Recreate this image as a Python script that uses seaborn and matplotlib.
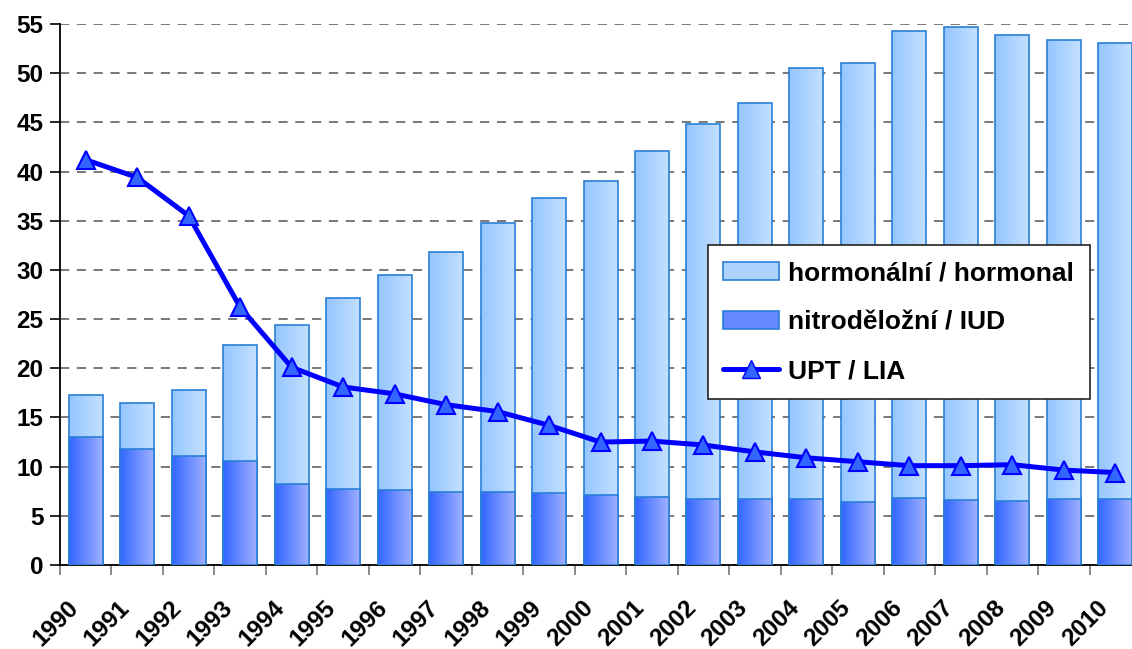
import numpy as np
import pandas as pd
import matplotlib
matplotlib.use('Agg')
import matplotlib.pyplot as plt
import matplotlib.transforms as mtransforms
import seaborn as sns
from matplotlib.patches import Patch
from matplotlib.lines import Line2D
from matplotlib.colors import LinearSegmentedColormap

# data
years = [str(y) for y in range(1990, 2011)]
total = [17.25, 16.5, 17.75, 22.35, 24.4, 27.1, 29.5, 31.8, 34.75, 37.3, 39.0,
         42.1, 44.8, 47.0, 50.5, 51.0, 54.3, 54.7, 53.9, 53.4, 53.1]
iud = [13.05, 11.75, 11.1, 10.55, 8.2, 7.7, 7.6, 7.4, 7.4, 7.3, 7.1,
       6.9, 6.7, 6.7, 6.75, 6.4, 6.85, 6.65, 6.55, 6.75, 6.75]
upt = [41.2, 39.4, 35.5, 26.2, 20.1, 18.1, 17.4, 16.3, 15.6, 14.2, 12.5,
       12.6, 12.2, 11.5, 10.9, 10.5, 10.1, 10.1, 10.2, 9.65, 9.4]

df = pd.DataFrame({'year': years, 'total': total, 'iud': iud, 'upt': upt})

sns.set_style('white')
plt.rcParams['font.family'] = ['Liberation Sans', 'DejaVu Sans']
plt.rcParams['font.weight'] = 'bold'
plt.rcParams['text.color'] = 'black'
plt.rcParams['xtick.color'] = 'black'
plt.rcParams['ytick.color'] = 'black'

fig = plt.figure(figsize=(11.32, 6.49), dpi=100)
ax = fig.add_axes([0.053, 0.1294, 0.955, 0.8336])

edge = '#2a7fd8'
sns.barplot(data=df, x='year', y='total', color='#a8d0ff', edgecolor=edge,
            linewidth=1.2, width=0.66, saturation=1, ax=ax, zorder=2)
n_tot = len(ax.patches)
sns.barplot(data=df, x='year', y='iud', color='#6688ff', edgecolor=edge,
            linewidth=1.2, width=0.66, saturation=1, ax=ax, zorder=3)

# horizontal gradient inside the bars
hor_cmap = LinearSegmentedColormap.from_list('hor', ['#94c6ff', '#c4e0ff'])
iud_cmap = LinearSegmentedColormap.from_list('iud', ['#3366ff', '#9fb0ff'])
grad = np.linspace(0, 1, 64).reshape(1, -1)
for i, p in enumerate(ax.patches):
    x0, y0 = p.get_x(), p.get_y()
    w, h = p.get_width(), p.get_height()
    cmap = hor_cmap if i < n_tot else iud_cmap
    im = ax.imshow(grad, cmap=cmap, aspect='auto', extent=[x0, x0 + w, y0, y0 + h],
                   zorder=p.get_zorder() + 0.1, interpolation='bicubic')
    im.set_clip_path(p)
    p.set_facecolor('none')
    p.set_zorder(p.get_zorder() + 0.2)

sns.lineplot(x=np.arange(len(years)), y=upt, color='#0000ff', linewidth=3.6,
             marker='^', markersize=13, markerfacecolor='#3366ff',
             markeredgecolor='#0000ff', markeredgewidth=1.5, ax=ax, zorder=5)

ax.set_xlim(-0.5, len(years) - 0.5)
ax.set_ylim(0, 55)
ax.set_yticks(range(0, 56, 5))
ax.set_xlabel('')
ax.set_ylabel('')

ax.yaxis.grid(True, linestyle=(0, (6, 5)), color='#555555', linewidth=1.1, zorder=0)
ax.set_axisbelow(True)
for s in ['top', 'right']:
    ax.spines[s].set_visible(False)
for s in ['left', 'bottom']:
    ax.spines[s].set_color('black')
    ax.spines[s].set_linewidth(1.3)

ax.tick_params(axis='y', which='major', length=7, width=1.2, color='black',
               direction='out', labelsize=17.5, pad=5, left=True)
ax.set_xticks(np.arange(len(years)))
ax.set_xticks(np.arange(-0.5, len(years), 1), minor=True)
ax.tick_params(axis='x', which='major', length=0, pad=28, labelsize=17.5)
ax.tick_params(axis='x', which='minor', length=7, width=1.2, color='#777777',
               direction='out', bottom=True)
shift = mtransforms.ScaledTranslation(-11 / 100, 0, fig.dpi_scale_trans)
for lab in ax.get_xticklabels():
    lab.set_rotation(45)
    lab.set_ha('right')
    lab.set_va('center')
    lab.set_rotation_mode('anchor')
    lab.set_fontweight('bold')
    lab.set_transform(lab.get_transform() + shift)
for lab in ax.get_yticklabels():
    lab.set_fontweight('bold')

handles = [
    Patch(facecolor='#aed3ff', edgecolor=edge, linewidth=1.2),
    Patch(facecolor='#6688ff', edgecolor=edge, linewidth=1.2),
    Line2D([0], [0], color='#0000ff', linewidth=3.6, marker='^', markersize=13,
           markerfacecolor='#3366ff', markeredgecolor='#0000ff'),
]
labels = ['hormonální / hormonal', 'nitroděložní / IUD', 'UPT / LIA']
leg = ax.legend(handles, labels, loc='upper left', bbox_to_anchor=(0.599, 0.591),
                frameon=True, fancybox=False, framealpha=1, edgecolor='#222222',
                prop={'weight': 'bold', 'size': 19}, labelspacing=0.95,
                handlelength=2.1, handleheight=0.7, handletextpad=0.35,
                borderpad=0.6, borderaxespad=0)
leg.get_frame().set_linewidth(1.2)
leg.set_zorder(10)

fig.savefig('out.png', dpi=100)
